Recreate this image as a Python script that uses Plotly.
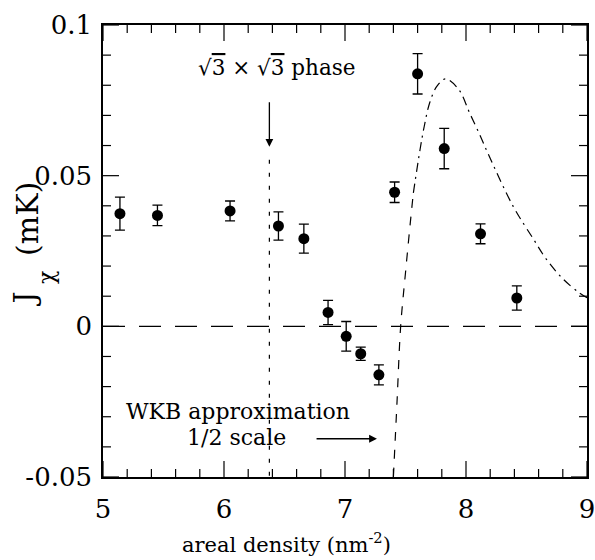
import plotly.graph_objects as go

# Measured data
density = [5.14, 5.45, 6.05, 6.45, 6.66, 6.86, 7.01, 7.13, 7.28, 7.41, 7.60, 7.82, 8.12, 8.42]
j_chi = [0.0374, 0.0368, 0.0383, 0.0333, 0.0291, 0.0046, -0.0033, -0.0091, -0.0161, 0.0445, 0.0838, 0.0590, 0.0307, 0.0094]
j_err = [0.0055, 0.0034, 0.0033, 0.0047, 0.0048, 0.0040, 0.0049, 0.0022, 0.0033, 0.0034, 0.0067, 0.0067, 0.0033, 0.0040]

# WKB approximation (1/2 scale) curve
wkb_rise_x = [7.40, 7.43, 7.46, 7.50, 7.545, 7.565]
wkb_rise_y = [-0.05, -0.025, 0.0, 0.0178, 0.0365, 0.0443]
wkb_fall_x = [7.565, 7.62, 7.655, 7.70, 7.76, 7.83, 7.94, 8.03, 8.12, 8.18, 8.39, 8.56, 8.66, 8.80, 8.94, 9.0]
wkb_fall_y = [0.0443, 0.0586, 0.0664, 0.0742, 0.0797, 0.0821, 0.0786, 0.0708, 0.063, 0.0575, 0.0398, 0.0288, 0.0225, 0.0158, 0.011, 0.0095]

phase_x = [6.375, 6.375]
phase_y = [0.0553, -0.05]
zero_x = [5, 9]
zero_y = [0, 0]

x_range = [5, 9]
y_range = [-0.05, 0.1]
x_ticks = [5, 6, 7, 8, 9]
y_ticks = [-0.05, 0, 0.05, 0.1]
y_ticktext = ["-0.05", "0", "0.05", "0.1"]
x_minor = [round(5 + 0.2 * i, 2) for i in range(21) if i % 5 != 0]
y_minor = [round(-0.05 + 0.01 * i, 3) for i in range(16) if i % 5 != 0]

FONT = "DejaVu Serif"

# plot area size in pixels (for converting tick lengths)
PLOT_W, PLOT_H = 484, 452
px_x = (x_range[1] - x_range[0]) / PLOT_W
px_y = (y_range[1] - y_range[0]) / PLOT_H


def tick_segments():
    xs, ys = [], []
    for vals, ln in ((x_ticks, 16), (x_minor, 8)):
        for v in vals:
            xs += [v, v, None, v, v, None]
            ys += [y_range[0], y_range[0] + ln * px_y, None,
                   y_range[1], y_range[1] - ln * px_y, None]
    for vals, ln in ((y_ticks, 16), (y_minor, 8)):
        for v in vals:
            xs += [x_range[0], x_range[0] + ln * px_x, None,
                   x_range[1], x_range[1] - ln * px_x, None]
            ys += [v, v, None, v, v, None]
    return xs, ys


fig = go.Figure()
tx, ty = tick_segments()
fig.add_trace(go.Scatter(x=tx, y=ty, mode="lines", line=dict(color="black", width=1.2),
                         hoverinfo="skip", showlegend=False))
fig.add_trace(go.Scatter(x=zero_x, y=zero_y, mode="lines",
                         line=dict(color="black", width=1.2, dash="22px,14px"), showlegend=False))
fig.add_trace(go.Scatter(x=phase_x, y=phase_y, mode="lines",
                         line=dict(color="black", width=1.2, dash="4px,9px"), showlegend=False))
fig.add_trace(go.Scatter(x=wkb_rise_x, y=wkb_rise_y, mode="lines", line_shape="spline",
                         line=dict(color="black", width=1.2, dash="9px,9px"), showlegend=False))
fig.add_trace(go.Scatter(x=wkb_fall_x, y=wkb_fall_y, mode="lines", line_shape="spline",
                         line=dict(color="black", width=1.2, dash="9px,5px,2px,5px"), showlegend=False))
fig.add_trace(go.Scatter(x=density, y=j_chi, mode="markers",
                         marker=dict(color="black", size=11),
                         error_y=dict(type="data", array=j_err, color="black", thickness=1.3, width=5),
                         showlegend=False))

fig.update_layout(
    template="none",
    xaxis=dict(range=x_range, tickmode="array", tickvals=x_ticks,
               showline=True, linecolor="black", linewidth=1.5, mirror=True,
               ticks="", showgrid=False, zeroline=False,
               ticklabeloverflow="allow", ticklabelstandoff=8,
               tickfont=dict(family=FONT, size=26, color="black")),
    yaxis=dict(range=y_range, tickmode="array", tickvals=y_ticks, ticktext=y_ticktext,
               showline=True, linecolor="black", linewidth=1.5, mirror=True,
               ticks="", showgrid=False, zeroline=False,
               ticklabeloverflow="allow", ticklabelstandoff=4,
               tickfont=dict(family=FONT, size=26, color="black")),
)

annotations = [
    dict(x=0.380, y=-0.147, xref="paper", yref="paper", showarrow=False,
         text="areal density (nm<sup>-2</sup>)", font=dict(family=FONT, size=21, color="black"),
         xanchor="center", yanchor="middle"),
    dict(x=-0.163, y=0.393, xref="paper", yref="paper", showarrow=False, textangle=-90,
         text="J", font=dict(family=FONT, size=30, color="black"),
         xanchor="center", yanchor="middle"),
    dict(x=-0.118, y=0.442, xref="paper", yref="paper", showarrow=False, textangle=-90,
         text="χ", font=dict(family=FONT, size=22, color="black"),
         xanchor="center", yanchor="middle"),
    dict(x=-0.155, y=0.571, xref="paper", yref="paper", showarrow=False, textangle=-90,
         text="(mK)", font=dict(family=FONT, size=30, color="black"),
         xanchor="center", yanchor="middle"),
    dict(x=6.434, y=0.0859, xref="x", yref="y", showarrow=False,
         text="√<span style='text-decoration:overline'>3</span> × √<span style='text-decoration:overline'>3</span> phase",
         font=dict(family=FONT, size=21.5, color="black"), xanchor="center", yanchor="middle"),
    dict(x=6.375, y=0.0596, ax=6.375, ay=0.0772, xref="x", yref="y", axref="x", ayref="y",
         showarrow=True, arrowhead=2, arrowsize=1.2, arrowwidth=1.3, arrowcolor="black", text=" "),
    dict(x=6.116, y=-0.0284, xref="x", yref="y", showarrow=False, text="WKB approximation",
         font=dict(family=FONT, size=22, color="black"), xanchor="center", yanchor="middle"),
    dict(x=6.10, y=-0.0370, xref="x", yref="y", showarrow=False, text="1/2 scale",
         font=dict(family=FONT, size=22, color="black"), xanchor="center", yanchor="middle"),
    dict(x=7.264, y=-0.0373, ax=6.736, ay=-0.0373, xref="x", yref="y", axref="x", ayref="y",
         showarrow=True, arrowhead=2, arrowsize=1.2, arrowwidth=1.3, arrowcolor="black", text=" "),
]

fig.update_layout(width=595, height=560, margin=dict(l=103, r=8, t=25, b=83),
                  paper_bgcolor="white", plot_bgcolor="white",
                  font=dict(family=FONT, color="black"),
                  annotations=annotations)

fig.write_html("out.html")
